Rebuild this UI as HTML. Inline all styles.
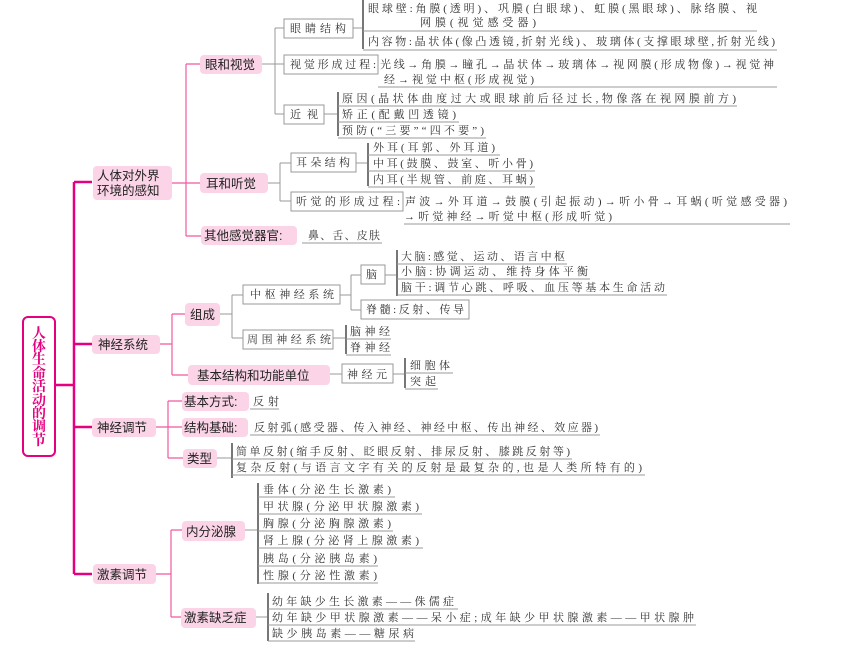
<!DOCTYPE html>
<html><head><meta charset="utf-8"><style>
html,body{margin:0;padding:0;background:#fff;}
svg{display:block;}
.t{font-family:"Liberation Serif","Noto Serif CJK SC",serif;font-size:11px;fill:#333;}
.p{font-family:"Liberation Sans","Noto Sans CJK SC",sans-serif;font-size:12.5px;fill:#222;}
.pb{fill:#fbd5e7;}
.gb{fill:#fff;stroke:#999;stroke-width:1;}
.g{stroke:#999;stroke-width:1;fill:none;}
.br{stroke:#777;stroke-width:2;fill:none;}
.u{stroke:#999;stroke-width:1;}
.pk{stroke:#f0599f;stroke-width:1.2;fill:none;}
.PK{stroke:#e4007f;stroke-width:2.5;fill:none;}
</style></head><body>
<svg width="850" height="650" xmlns="http://www.w3.org/2000/svg">
<!-- root -->
<rect x="23" y="317" width="32" height="139" rx="5" fill="#fff" stroke="#e4007f" stroke-width="2"/>
<g font-family="Liberation Serif,'Noto Serif CJK SC',serif" font-size="14" font-weight="bold" fill="#e4007f" text-anchor="middle">
<text x="39" y="338">人</text><text x="39" y="351">体</text><text x="39" y="364">生</text><text x="39" y="378">命</text><text x="39" y="391">活</text><text x="39" y="405">动</text><text x="39" y="418">的</text><text x="39" y="431">调</text><text x="39" y="445">节</text>
</g>
<path class="PK" d="M55 385H74M74 182V574M74 182H92M74 344H92M74 427H92M74 574H92"/>
<!-- level1 -->
<rect class="pb" x="93" y="166" width="79" height="34" rx="4"/>
<text class="p" x="97" y="180">人体对外界</text><text class="p" x="97" y="195">环境的感知</text>
<rect class="pb" x="92" y="335" width="68" height="19" rx="4"/><text class="p" x="98" y="349">神经系统</text>
<rect class="pb" x="92" y="418" width="64" height="19" rx="4"/><text class="p" x="97" y="432">神经调节</text>
<rect class="pb" x="93" y="564" width="63" height="20" rx="4"/><text class="p" x="97" y="579">激素调节</text>
<!-- pink branches -->
<path class="pk" d="M172 183H186M186 64V236M186 64H200M186 183H200M186 236H201"/>
<path class="pk" d="M160 344H172M172 314V375M172 314H185M172 375H188"/>
<path class="pk" d="M156 427H168M168 401V458M168 401H182M168 427H182M168 458H183"/>
<path class="pk" d="M156 574H171M171 530V617M171 530H182M171 617H181"/>
<!-- level2 pink boxes -->
<rect class="pb" x="200" y="55" width="62" height="19" rx="4"/><text class="p" x="205" y="69">眼和视觉</text>
<rect class="pb" x="200" y="173" width="68" height="20" rx="4"/><text class="p" x="206" y="188">耳和听觉</text>
<rect class="pb" x="201" y="226" width="96" height="19" rx="4"/><text class="p" x="204" y="240">其他感觉器官:</text>
<rect class="pb" x="185" y="303" width="35" height="23" rx="4"/><text class="p" x="190" y="319">组成</text>
<rect class="pb" x="188" y="365" width="142" height="20" rx="4"/><text class="p" x="197" y="380">基本结构和功能单位</text>
<rect class="pb" x="182" y="392" width="67" height="19" rx="4"/><text class="p" x="184" y="406">基本方式:</text>
<rect class="pb" x="182" y="418" width="66" height="19" rx="4"/><text class="p" x="184" y="432">结构基础:</text>
<rect class="pb" x="183" y="449" width="34" height="19" rx="4"/><text class="p" x="187" y="463">类型</text>
<rect class="pb" x="182" y="521" width="63" height="20" rx="4"/><text class="p" x="186" y="536">内分泌腺</text>
<rect class="pb" x="181" y="608" width="75" height="20" rx="4"/><text class="p" x="184" y="622">激素缺乏症</text>

<!-- 眼和视觉 -->
<path class="g" d="M262 64H275M275 28V114M275 28H284M275 64H284M275 114H284"/>
<rect class="gb" x="284" y="19" width="69" height="19"/><text class="t" x="290" y="32" textLength="56">眼睛结构</text>
<rect class="gb" x="284" y="55" width="94" height="19"/><text class="t" x="290" y="68" textLength="86">视觉形成过程:</text>
<rect class="gb" x="284" y="105" width="40" height="19"/><text class="t" x="290" y="118" textLength="28">近视</text>
<path class="g" d="M353 28H362"/><path class="br" d="M363 0V49"/>
<text class="t" x="368" y="12" textLength="389">眼球壁:角膜(透明)、巩膜(白眼球)、虹膜(黑眼球)、脉络膜、视</text>
<text class="t" x="420" y="26" textLength="116">网膜(视觉感受器)</text>
<path class="u" d="M363 31H757M363 50H777"/>
<text class="t" x="368" y="45" textLength="407">内容物:晶状体(像凸透镜,折射光线)、玻璃体(支撑眼球壁,折射光线)</text>
<text class="t" x="380" y="68" textLength="394">光线→角膜→瞳孔→晶状体→玻璃体→视网膜(形成物像)→视觉神</text>
<text class="t" x="384" y="83" textLength="150">经→视觉中枢(形成视觉)</text>
<path class="u" d="M378 87H777"/>
<path class="g" d="M324 114H337"/><path class="br" d="M338 92V136"/>
<text class="t" x="342" y="102" textLength="394">原因(晶状体曲度过大或眼球前后径过长,物像落在视网膜前方)</text>
<text class="t" x="342" y="118" textLength="114">矫正(配戴凹透镜)</text>
<text class="t" x="342" y="134" textLength="142">预防(“三要”“四不要”)</text>
<path class="u" d="M338 106H737M338 122H459M338 138H486"/>
<!-- 耳和听觉 -->
<path class="g" d="M268 183H280M280 163V201M280 163H291M280 201H291"/>
<rect class="gb" x="291" y="153" width="65" height="19"/><text class="t" x="296" y="166" textLength="54">耳朵结构</text>
<rect class="gb" x="291" y="192" width="112" height="19"/><text class="t" x="296" y="205" textLength="104">听觉的形成过程:</text>
<path class="g" d="M356 163H367"/><path class="br" d="M368 143V186"/>
<text class="t" x="373" y="151" textLength="122">外耳(耳郭、外耳道)</text>
<text class="t" x="373" y="167" textLength="160">中耳(鼓膜、鼓室、听小骨)</text>
<text class="t" x="373" y="183" textLength="160">内耳(半规管、前庭、耳蜗)</text>
<path class="u" d="M368 155H500M368 171H535M368 187H535"/>
<text class="t" x="405" y="205" textLength="382">声波→外耳道→鼓膜(引起振动)→听小骨→耳蜗(听觉感受器)</text>
<text class="t" x="404" y="220" textLength="208">→听觉神经→听觉中枢(形成听觉)</text>
<path class="u" d="M404 224H790"/>
<text class="t" x="308" y="239" textLength="72">鼻、舌、皮肤</text>
<path class="u" d="M302 243H382"/>
<!-- 组成 -->
<path class="g" d="M220 314H232M232 295V338M232 295H243M232 338H243"/>
<rect class="gb" x="243" y="285" width="97" height="19"/><text class="t" x="250" y="298" textLength="84">中枢神经系统</text>
<rect class="gb" x="243" y="330" width="90" height="19"/><text class="t" x="247" y="343" textLength="84">周围神经系统</text>
<path class="g" d="M340 295H351M351 275V310M351 275H361M351 310H361"/>
<rect class="gb" x="361" y="265" width="24" height="19"/><text class="t" x="366" y="278">脑</text>
<rect class="gb" x="361" y="300" width="108" height="19"/><text class="t" x="366" y="313" textLength="98">脊髓:反射、传导</text>
<path class="g" d="M385 275H396"/><path class="br" d="M397 250V296"/>
<text class="t" x="401" y="260" textLength="164">大脑:感觉、运动、语言中枢</text>
<text class="t" x="401" y="275" textLength="187">小脑:协调运动、维持身体平衡</text>
<text class="t" x="401" y="291" textLength="264">脑干:调节心跳、呼吸、血压等基本生命活动</text>
<path class="u" d="M397 264H567M397 279H590M397 295H667"/>
<path class="g" d="M333 338H345"/><path class="br" d="M346 325V354"/>
<text class="t" x="350" y="335" textLength="40">脑神经</text>
<text class="t" x="350" y="351" textLength="40">脊神经</text>
<path class="u" d="M346 339H391M346 355H391"/>
<path class="g" d="M330 374H342"/>
<rect class="gb" x="342" y="364" width="51" height="19"/><text class="t" x="347" y="378" textLength="40">神经元</text>
<path class="g" d="M393 374H404"/><path class="br" d="M405 358V388"/>
<text class="t" x="410" y="369" textLength="40">细胞体</text>
<text class="t" x="410" y="385" textLength="26">突起</text>
<path class="u" d="M405 373H453M405 389H438"/>
<!-- 神经调节 -->
<text class="t" x="253" y="405" textLength="26">反射</text><path class="u" d="M250 409H279"/>
<text class="t" x="254" y="431" textLength="344">反射弧(感受器、传入神经、神经中枢、传出神经、效应器)</text><path class="u" d="M250 435H600"/>
<path class="g" d="M217 458H231"/><path class="br" d="M232 443V478"/>
<text class="t" x="236" y="455" textLength="334">简单反射(缩手反射、眨眼反射、排尿反射、膝跳反射等)</text>
<text class="t" x="236" y="471" textLength="406">复杂反射(与语言文字有关的反射是最复杂的,也是人类所特有的)</text>
<path class="u" d="M232 459H572M232 475H645"/>
<!-- 内分泌腺 -->
<path class="g" d="M245 530H257"/><path class="br" d="M258 483V584"/>
<text class="t" x="263" y="493" textLength="128">垂体(分泌生长激素)</text>
<text class="t" x="263" y="510" textLength="156">甲状腺(分泌甲状腺激素)</text>
<text class="t" x="263" y="527" textLength="128">胸腺(分泌胸腺激素)</text>
<text class="t" x="263" y="544" textLength="156">肾上腺(分泌肾上腺激素)</text>
<text class="t" x="263" y="562" textLength="114">胰岛(分泌胰岛素)</text>
<text class="t" x="263" y="579" textLength="114">性腺(分泌性激素)</text>
<path class="u" d="M258 497H395M258 514H422M258 531H393M258 548H423M258 566H378M258 583H378"/>
<!-- 激素缺乏症 -->
<path class="g" d="M256 617H267"/><path class="br" d="M268 593V641"/>
<text class="t" x="272" y="605" textLength="182">幼年缺少生长激素——侏儒症</text>
<text class="t" x="272" y="621" textLength="422">幼年缺少甲状腺激素——呆小症;成年缺少甲状腺激素——甲状腺肿</text>
<text class="t" x="272" y="637" textLength="142">缺少胰岛素——糖尿病</text>
<path class="u" d="M268 609H458M268 625H696M268 641H415"/>
</svg>
</body></html>
